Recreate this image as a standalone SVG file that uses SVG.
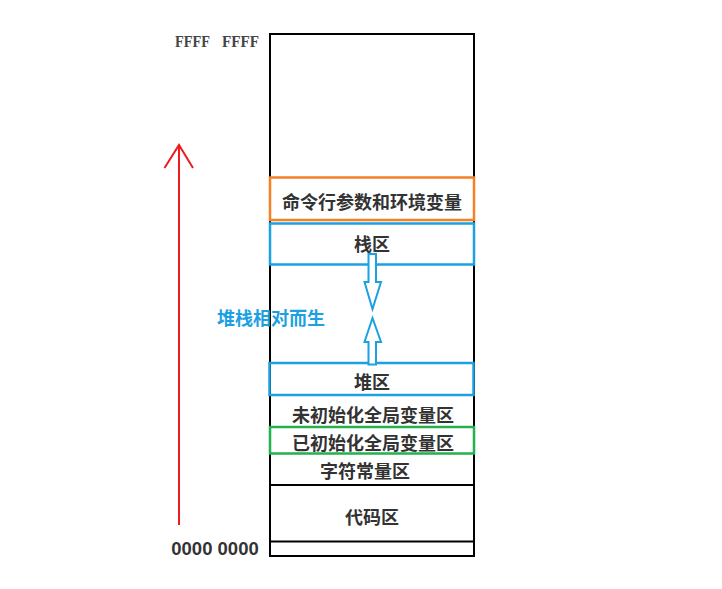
<svg xmlns="http://www.w3.org/2000/svg" width="722" height="589" viewBox="0 0 722 589">
<style>
.t{font-family:"Noto Sans CJK SC","Liberation Sans",sans-serif;font-weight:bold;font-size:18px;fill:#333;text-anchor:middle;dominant-baseline:central}
.box{fill:none;stroke-width:2.5}
.ff{font-family:"Liberation Serif",serif;font-size:16.5px;fill:#444;dominant-baseline:central}
</style>
<rect width="722" height="589" fill="#fff"/>
<g id="memory">
<rect x="270" y="34" width="204" height="522" fill="none" stroke="#000" stroke-width="2"/>
<line x1="270" y1="485" x2="474" y2="485" stroke="#000" stroke-width="2"/>
<line x1="270" y1="541.5" x2="474" y2="541.5" stroke="#000" stroke-width="2"/>
</g>
<g id="env">
<rect x="270" y="177.5" width="204" height="42.5" class="box" stroke="#F58025"/>
<text x="372" y="201" class="t">命令行参数和环境变量</text>
</g>
<g id="stack">
<rect x="270" y="223.5" width="204" height="41" class="box" stroke="#1BA1E2"/>
<text x="372" y="242.5" class="t">栈区</text>
</g>
<g id="heap">
<rect x="269.5" y="363" width="204" height="32" class="box" stroke="#1BA1E2"/>
<text x="372" y="380.5" class="t">堆区</text>
</g>
<g id="bss">
<text x="373" y="413.5" class="t">未初始化全局变量区</text>
</g>
<g id="data">
<rect x="270" y="427" width="204" height="26.5" class="box" stroke="#22B14C"/>
<text x="373" y="441.5" class="t">已初始化全局变量区</text>
</g>
<g id="rodata">
<text x="365" y="470" class="t">字符常量区</text>
</g>
<g id="text">
<text x="372" y="515.5" class="t">代码区</text>
</g>
<g id="labels">
<text x="175" y="41" class="ff" font-weight="bold" textLength="35" lengthAdjust="spacingAndGlyphs">FFFF</text>
<text x="222" y="41" class="ff" font-weight="bold" textLength="37" lengthAdjust="spacingAndGlyphs">FFFF</text>
<text x="215" y="548" font-family="Liberation Sans,sans-serif" font-size="18.5" font-weight="bold" fill="#333" text-anchor="middle" dominant-baseline="central">0000 0000</text>
<text x="271" y="317" class="t" style="fill:#1BA1E2">堆栈相对而生</text>
</g>
<g id="connectors">
<line x1="179" y1="525" x2="179" y2="145" stroke="#ED1C24" stroke-width="2"/>
<polyline points="164.5,168 179,145 193,168" fill="none" stroke="#ED1C24" stroke-width="2"/>
<polygon points="368.5,254 376,254 376,282 381,282 372.5,309 364.5,282 368.5,282" fill="#fff" stroke="#1BA1E2" stroke-width="2"/>
<polygon points="368.5,364.5 376,364.5 376,342 381,342 372.5,318 364.5,342 368.5,342" fill="#fff" stroke="#1BA1E2" stroke-width="2"/>
</g>
</svg>
